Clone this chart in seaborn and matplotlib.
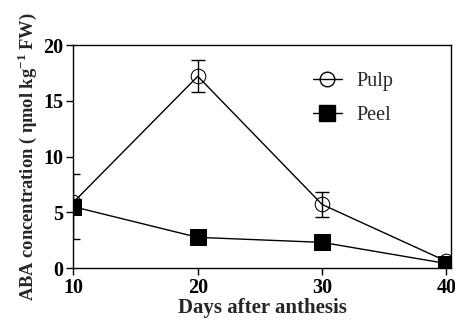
import matplotlib
matplotlib.use("Agg")
import matplotlib.pyplot as plt
import seaborn as sns
import pandas as pd
from matplotlib.lines import Line2D

# data
days = [10, 20, 30, 40]
pulp = [5.9, 17.2, 5.7, 0.6]
pulp_err = [0.3, 1.45, 1.1, 0.2]
peel = [5.5, 2.75, 2.3, 0.4]
peel_err = [2.9, 0.2, 0.2, 0.1]

sns.set_style("ticks")
plt.rcParams['font.family'] = ['Liberation Serif', 'DejaVu Serif']
plt.rcParams['mathtext.fontset'] = 'custom'
plt.rcParams['mathtext.rm'] = 'Liberation Serif:bold'
plt.rcParams['mathtext.bf'] = 'Liberation Serif:bold'

df = pd.DataFrame({"Days": days * 2,
                   "ABA": pulp + peel,
                   "Tissue": ["Pulp"] * 4 + ["Peel"] * 4})

fig = plt.figure(figsize=(4.56, 3.2), dpi=100)
ax = fig.add_axes([0.161, 0.1625, 0.829, 0.6965])

# error bars
ax.errorbar(days, pulp, yerr=pulp_err, fmt="none", ecolor="black",
            elinewidth=1, capsize=5, capthick=1, zorder=2)
ax.errorbar(days, peel, yerr=peel_err, fmt="none", ecolor="black",
            elinewidth=1, capsize=5, capthick=1, zorder=2)

sns.lineplot(data=df, x="Days", y="ABA", hue="Tissue", style="Tissue",
             markers={"Pulp": "o", "Peel": "s"}, dashes=False,
             palette={"Pulp": "black", "Peel": "black"},
             linewidth=1, ax=ax, legend=False, zorder=3)
lines = ax.get_lines()
lines[-2].set_markerfacecolor("none")
lines[-2].set_markeredgecolor("black")
lines[-2].set_markersize(10.5)
lines[-1].set_markerfacecolor("black")
lines[-1].set_markeredgecolor("black")
lines[-1].set_markersize(11)

handles = [Line2D([], [], color="black", lw=1, marker="o", markersize=10.5,
                  markerfacecolor="none", markeredgecolor="black"),
           Line2D([], [], color="black", lw=1, marker="s", markersize=11,
                  markerfacecolor="black", markeredgecolor="black")]
ax.legend(handles, ["Pulp", "Peel"], frameon=False, loc="upper left",
          bbox_to_anchor=(0.585, 0.96), fontsize=14.5, handlelength=1.45,
          labelspacing=0.75, handletextpad=0.7)

ax.set_xlim(10, 40.4)
ax.set_ylim(0, 20)
ax.set_xticks([10, 20, 30, 40])
ax.set_yticks([0, 5, 10, 15, 20])
for s in ax.spines.values():
    s.set_linewidth(1)
    s.set_color("black")
ax.tick_params(direction="out", length=5, width=1, labelsize=14.5,
               colors="black", pad=2)
for lab in ax.get_xticklabels() + ax.get_yticklabels():
    lab.set_fontweight("bold")

ax.set_xlabel("Days after anthesis", fontsize=15, fontweight="bold", labelpad=0)
ax.set_ylabel("ABA concentration ( \u03b7mol kg$^{-1}$ FW)", fontsize=13.3,
              fontweight="bold", labelpad=3)

fig.savefig("out.png", dpi=100)
